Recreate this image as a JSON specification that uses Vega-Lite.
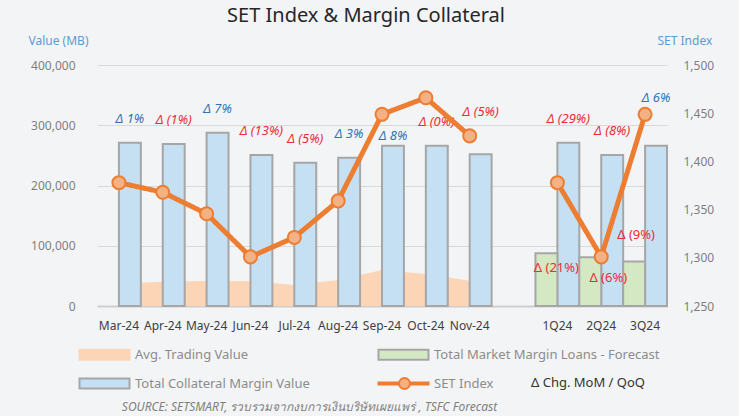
{
  "$schema": "https://vega.github.io/schema/vega-lite/v6.json",
  "width": 570,
  "height": 241,
  "autosize": {"type": "none"},
  "padding": {"left": 97, "top": 65, "right": 72, "bottom": 110},
  "background": "#f3f4f6",
  "config": {
    "font": "Noto Sans",
    "view": {"stroke": null},
    "axis": {"labelFont": "Noto Sans", "titleFont": "Noto Sans"},
    "legend": {"labelFont": "Noto Sans", "titleFont": "Noto Sans"}
  },
  "title": {"text": "SET Index & Margin Collateral", "fontSize": 20, "fontWeight": "normal", "color": "#262626", "anchor": "middle", "frame": "group", "dx": -16, "offset": 8},
  "data": {"values": [
    {"cat": "Mar-24", "series": "Avg. Trading Value", "value": 37000},
    {"cat": "Apr-24", "series": "Avg. Trading Value", "value": 40300},
    {"cat": "May-24", "series": "Avg. Trading Value", "value": 41500},
    {"cat": "Jun-24", "series": "Avg. Trading Value", "value": 41000},
    {"cat": "Jul-24", "series": "Avg. Trading Value", "value": 34900},
    {"cat": "Aug-24", "series": "Avg. Trading Value", "value": 43000},
    {"cat": "Sep-24", "series": "Avg. Trading Value", "value": 59700},
    {"cat": "Oct-24", "series": "Avg. Trading Value", "value": 53100},
    {"cat": "Nov-24", "series": "Avg. Trading Value", "value": 42000},
    {"cat": "Mar-24", "series": "Total Collateral Margin Value", "value": 271000, "chg": "Δ 1%"},
    {"cat": "Apr-24", "series": "Total Collateral Margin Value", "value": 269000, "chg": "Δ (1%)"},
    {"cat": "May-24", "series": "Total Collateral Margin Value", "value": 287600, "chg": "Δ 7%"},
    {"cat": "Jun-24", "series": "Total Collateral Margin Value", "value": 250600, "chg": "Δ (13%)"},
    {"cat": "Jul-24", "series": "Total Collateral Margin Value", "value": 237800, "chg": "Δ (5%)"},
    {"cat": "Aug-24", "series": "Total Collateral Margin Value", "value": 246000, "chg": "Δ 3%"},
    {"cat": "Sep-24", "series": "Total Collateral Margin Value", "value": 266000, "chg": "Δ 8%"},
    {"cat": "Oct-24", "series": "Total Collateral Margin Value", "value": 266000, "chg": "Δ (0%)"},
    {"cat": "Nov-24", "series": "Total Collateral Margin Value", "value": 251700, "chg": "Δ (5%)"},
    {"cat": "1Q24", "series": "Total Collateral Margin Value", "value": 271000, "chg": "Δ (29%)"},
    {"cat": "2Q24", "series": "Total Collateral Margin Value", "value": 250600, "chg": "Δ (8%)"},
    {"cat": "3Q24", "series": "Total Collateral Margin Value", "value": 266000, "chg": "Δ 6%"},
    {"cat": "1Q24", "series": "Total Market Margin Loans - Forecast", "value": 87500, "chg": "Δ (21%)"},
    {"cat": "2Q24", "series": "Total Market Margin Loans - Forecast", "value": 81000, "chg": "Δ (6%)"},
    {"cat": "3Q24", "series": "Total Market Margin Loans - Forecast", "value": 74000, "chg": "Δ (9%)"},
    {"cat": "Mar-24", "series": "SET Index", "value": 1377.94, "period": "M"},
    {"cat": "Apr-24", "series": "SET Index", "value": 1367.95, "period": "M"},
    {"cat": "May-24", "series": "SET Index", "value": 1345.66, "period": "M"},
    {"cat": "Jun-24", "series": "SET Index", "value": 1300.96, "period": "M"},
    {"cat": "Jul-24", "series": "SET Index", "value": 1321.15, "period": "M"},
    {"cat": "Aug-24", "series": "SET Index", "value": 1359.07, "period": "M"},
    {"cat": "Sep-24", "series": "SET Index", "value": 1448.83, "period": "M"},
    {"cat": "Oct-24", "series": "SET Index", "value": 1466.04, "period": "M"},
    {"cat": "Nov-24", "series": "SET Index", "value": 1426.5, "period": "M"},
    {"cat": "1Q24", "series": "SET Index", "value": 1377.94, "period": "Q"},
    {"cat": "2Q24", "series": "SET Index", "value": 1300.96, "period": "Q"},
    {"cat": "3Q24", "series": "SET Index", "value": 1448.83, "period": "Q"}
  ]},
  "encoding": {
    "x": {
      "field": "cat", "type": "nominal",
      "scale": {"domain": ["Mar-24", "Apr-24", "May-24", "Jun-24", "Jul-24", "Aug-24", "Sep-24", "Oct-24", "Nov-24", " ", "1Q24", "2Q24", "3Q24"], "paddingInner": 0, "paddingOuter": 0},
      "axis": {
        "title": "SOURCE: SETSMART, รวบรวมจากงบการเงินบริษัทเผยแพร่ , TSFC Forecast",
        "titleFontStyle": "italic", "titleFontWeight": "normal", "titleFontSize": 12, "titleColor": "#7f7f7f",
        "titleX": 212, "titleY": 100, "titleAlign": "center", "titleBaseline": "middle",
        "labelAngle": 0, "labelColor": "#404040", "labelFontSize": 12, "labelPadding": 14,
        "ticks": false, "domainColor": "#d0cece", "domainWidth": 2, "grid": false
      }
    }
  },
  "layer": [
    {
      "encoding": {
        "y": {
          "field": "value", "type": "quantitative",
          "scale": {"domain": [0, 400000]},
          "axis": {
            "title": "Value (MB)", "titleAngle": 0, "titleColor": "#5b9bd5", "titleFontWeight": "normal", "titleFontSize": 12,
            "titleAlign": "left", "titleBaseline": "middle", "titleX": -69, "titleY": -25,
            "values": [0, 100000, 200000, 300000, 400000], "format": ",.0f",
            "labelColor": "#7f7f7f", "labelFontSize": 12, "labelPadding": 22,
            "domain": false, "ticks": false, "grid": true, "gridColor": "#d9d9d9"
          }
        }
      },
      "layer": [
        {
          "transform": [{"filter": "datum.series === 'legend-only'"}],
          "mark": {"type": "point", "filled": true, "opacity": 1},
          "encoding": {
            "color": {
              "field": "series", "type": "nominal",
              "scale": {"domain": ["Avg. Trading Value", "Total Market Margin Loans - Forecast", "Total Collateral Margin Value", "SET Index"], "range": ["#fcd5b6", "#d5e8c4", "#c5e0f3", "#f4b183"]},
              "legend": {
                "orient": "none", "legendX": -19, "legendY": 283, "title": null,
                "columns": 2, "direction": "horizontal", "gridAlign": "all", "columnPadding": 13, "rowPadding": 10, "padding": 0,
                "symbolSize": 100, "symbolStrokeWidth": 2, "symbolOpacity": 1,
                "labelFontSize": 13, "labelColor": "#8c8c8c", "labelOffset": 44, "labelLimit": 400
              }
            },
            "shape": {
              "field": "series", "type": "nominal",
              "scale": {"domain": ["Avg. Trading Value", "Total Market Margin Loans - Forecast", "Total Collateral Margin Value", "SET Index"], "range": ["M-1,-1H9V1H-1Z", "M-1,-1H9V1H-1Z", "M-1,-1H9V1H-1Z", "M-1,-0.2H3.1V0.2H-1Z M5.3,-0.2H9V0.2H5.3Z M5.3,0A1.1,1.1 0 1,1 3.1,0A1.1,1.1 0 1,1 5.3,0Z"]}
            },
            "stroke": {
              "field": "series", "type": "nominal",
              "scale": {"domain": ["Avg. Trading Value", "Total Market Margin Loans - Forecast", "Total Collateral Margin Value", "SET Index"], "range": ["#fcd5b6", "#a6a6a6", "#a6a6a6", "#ed7d31"]}
            }
          }
        },
        {
          "transform": [{"filter": "datum.series === 'Avg. Trading Value'"}],
          "mark": {"type": "area", "color": "#fcd5b6", "opacity": 1}
        },
        {
          "transform": [{"filter": "datum.series === 'Total Collateral Margin Value' || datum.series === 'Total Market Margin Loans - Forecast'"}],
          "mark": {"type": "bar", "stroke": "#a6a6a6", "strokeWidth": 2, "opacity": 1},
          "encoding": {
            "xOffset": {"field": "series", "type": "nominal", "scale": {"domain": ["Total Market Margin Loans - Forecast", "Total Collateral Margin Value"], "paddingInner": 0, "paddingOuter": 0}},
            "color": {"field": "series", "type": "nominal", "legend": null}
          }
        },
        {
          "data": {"values": [{}]},
          "mark": {"type": "rule", "color": "#9dc3e6", "strokeWidth": 3},
          "encoding": {
            "x": {"datum": " ", "bandPosition": 0.5},
            "y": {"datum": -9000},
            "y2": {"datum": 396000}
          }
        },
        {
          "transform": [{"filter": "datum.series === 'Total Collateral Margin Value' && indexof(['Sep-24', 'Nov-24', '3Q24'], datum.cat) < 0"}],
          "mark": {"type": "text", "fontSize": 13, "fontStyle": "italic", "baseline": "middle", "dy": -24},
          "encoding": {
            "xOffset": {"field": "series", "type": "nominal"},
            "text": {"field": "chg"},
            "color": {"condition": {"test": "indexof(datum.chg, '(') >= 0", "value": "#ee2b36"}, "value": "#2e75b6"}
          }
        },
        {
          "transform": [{"filter": "datum.series === 'Total Collateral Margin Value' && datum.cat === 'Sep-24'"}],
          "mark": {"type": "text", "fontSize": 13, "fontStyle": "italic", "baseline": "middle", "dy": -10},
          "encoding": {
            "xOffset": {"field": "series", "type": "nominal"},
            "text": {"field": "chg"},
            "color": {"condition": {"test": "indexof(datum.chg, '(') >= 0", "value": "#ee2b36"}, "value": "#2e75b6"}
          }
        },
        {
          "transform": [{"filter": "datum.series === 'Total Collateral Margin Value' && datum.cat === 'Nov-24'"}],
          "mark": {"type": "text", "fontSize": 13, "fontStyle": "italic", "baseline": "middle", "dy": -42},
          "encoding": {
            "xOffset": {"field": "series", "type": "nominal"},
            "text": {"field": "chg"},
            "color": {"condition": {"test": "indexof(datum.chg, '(') >= 0", "value": "#ee2b36"}, "value": "#2e75b6"}
          }
        },
        {
          "transform": [{"filter": "datum.series === 'Total Collateral Margin Value' && datum.cat === '3Q24'"}],
          "mark": {"type": "text", "fontSize": 13, "fontStyle": "italic", "baseline": "middle", "dy": -48},
          "encoding": {
            "xOffset": {"field": "series", "type": "nominal"},
            "text": {"field": "chg"},
            "color": {"condition": {"test": "indexof(datum.chg, '(') >= 0", "value": "#ee2b36"}, "value": "#2e75b6"}
          }
        },
        {
          "transform": [{"filter": "datum.series === 'Total Market Margin Loans - Forecast' && datum.cat === '1Q24'"}],
          "mark": {"type": "text", "fontSize": 13, "baseline": "middle", "dx": 10, "dy": 15, "color": "#ee2b36"},
          "encoding": {"xOffset": {"field": "series", "type": "nominal"}, "text": {"field": "chg"}}
        },
        {
          "transform": [{"filter": "datum.series === 'Total Market Margin Loans - Forecast' && datum.cat === '2Q24'"}],
          "mark": {"type": "text", "fontSize": 13, "baseline": "middle", "dx": 18, "dy": 21, "color": "#ee2b36"},
          "encoding": {"xOffset": {"field": "series", "type": "nominal"}, "text": {"field": "chg"}}
        },
        {
          "transform": [{"filter": "datum.series === 'Total Market Margin Loans - Forecast' && datum.cat === '3Q24'"}],
          "mark": {"type": "text", "fontSize": 13, "baseline": "middle", "dx": 2, "dy": -26, "color": "#ee2b36"},
          "encoding": {"xOffset": {"field": "series", "type": "nominal"}, "text": {"field": "chg"}}
        }
      ]
    },
    {
      "transform": [{"filter": "datum.series === 'SET Index'"}],
      "encoding": {
        "y": {
          "field": "value", "type": "quantitative",
          "scale": {"domain": [1250, 1500]},
          "axis": {
            "orient": "right", "title": "SET Index", "titleAngle": 0, "titleColor": "#5b9bd5", "titleFontWeight": "normal", "titleFontSize": 12,
            "titleAlign": "left", "titleBaseline": "middle", "titleX": -10, "titleY": -25,
            "values": [1250, 1300, 1350, 1400, 1450, 1500], "format": ",.0f",
            "labelColor": "#7f7f7f", "labelFontSize": 12, "labelPadding": 16,
            "domain": false, "ticks": false, "grid": false
          }
        }
      },
      "layer": [
        {
          "mark": {"type": "line", "color": "#ed7d31", "strokeWidth": 5},
          "encoding": {
            "detail": {"field": "period"},
            "strokeDash": {
              "datum": "Δ Chg. MoM / QoQ",
              "scale": {"range": [[1, 0]]},
              "legend": {"orient": "none", "legendX": 421, "legendY": 311, "title": null, "symbolOpacity": 0, "symbolSize": 10, "labelColor": "#333333", "labelFontSize": 13, "labelOffset": 0, "padding": 0}
            }
          }
        },
        {
          "mark": {"type": "point", "filled": true, "fill": "#f4b183", "stroke": "#ed7d31", "strokeWidth": 2, "size": 170, "opacity": 1}
        }
      ]
    }
  ],
  "resolve": {"scale": {"y": "independent"}}
}
